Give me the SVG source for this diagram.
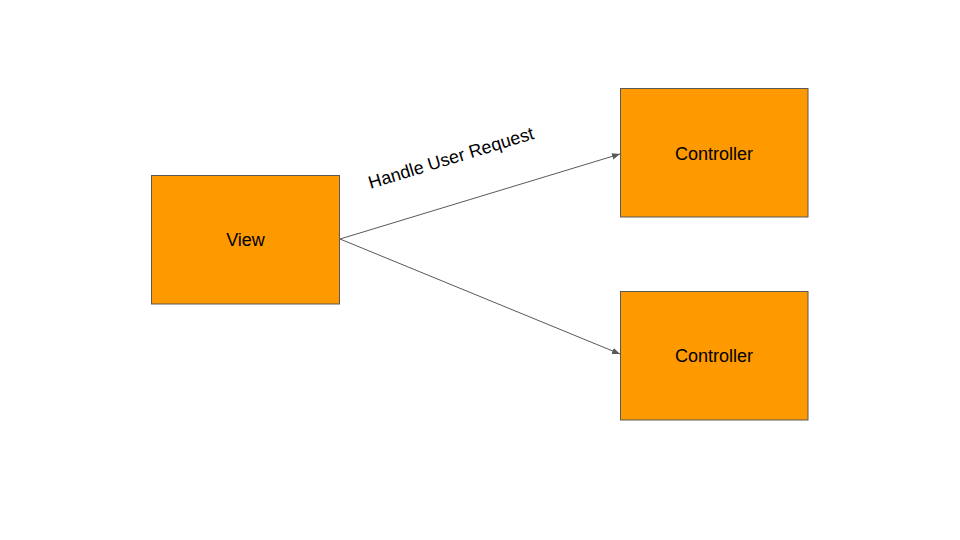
<svg xmlns="http://www.w3.org/2000/svg" width="960" height="540" viewBox="0 0 960 540">
<style>
.box{fill:#ff9900;stroke:#595959;stroke-width:1}
.lbl{font-family:"Liberation Sans",Arial,sans-serif;font-size:18px;fill:#000;text-anchor:middle;dominant-baseline:central}
.edge{stroke:#595959;stroke-width:1;fill:none;marker-end:url(#arr)}
</style>
<defs>
<marker id="arr" viewBox="0 0 10 10" refX="10" refY="5" markerWidth="8" markerHeight="8" markerUnits="userSpaceOnUse" orient="auto">
<path d="M0,1 L10,5 L0,9 Z" fill="#595959"/>
</marker>
</defs>
<rect width="960" height="540" fill="#fff"/>
<g id="connectors">
<line class="edge" x1="340" y1="239" x2="620" y2="154"/>
<line class="edge" x1="340" y1="239" x2="620" y2="354"/>
<text class="lbl" transform="translate(451,158) rotate(-17)">Handle User Request</text>
</g>
<g id="view">
<rect class="box" x="151.5" y="175.5" width="188" height="128.5"/>
<text class="lbl" x="245.5" y="240">View</text>
</g>
<g id="controller1">
<rect class="box" x="620.5" y="88.5" width="187.5" height="128.5"/>
<text class="lbl" x="714" y="154">Controller</text>
</g>
<g id="controller2">
<rect class="box" x="620.5" y="291.5" width="187.5" height="128.5"/>
<text class="lbl" x="714" y="356">Controller</text>
</g>
</svg>
